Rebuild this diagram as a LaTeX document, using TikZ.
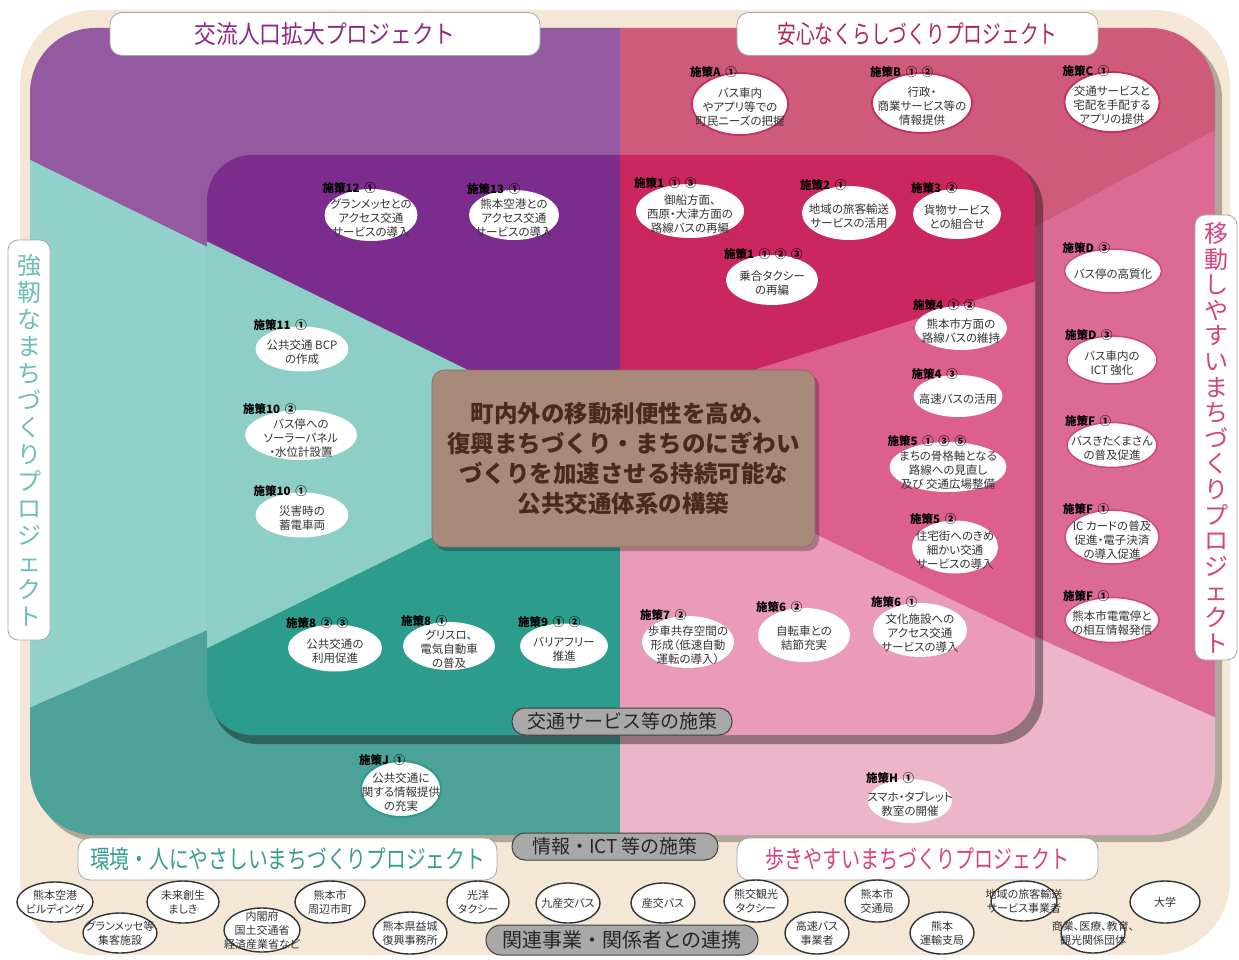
\documentclass[tikz,border=0pt]{standalone}
\usepackage{fontspec}
\setmainfont[RawFeature=+palt]{Noto Sans CJK JP}
\newfontfamily\plainjp{Noto Sans CJK JP}
\usepackage{graphicx}
\usetikzlibrary{shapes.geometric}

\definecolor{cream}{HTML}{F4E7D5}
\definecolor{oTL}{HTML}{935AA1}
\definecolor{oTR}{HTML}{CF5B7C}
\definecolor{oL}{HTML}{93D2CB}
\definecolor{oR}{HTML}{DB6B95}
\definecolor{oBL}{HTML}{4DA399}
\definecolor{oBR}{HTML}{EDB5C9}
\definecolor{iTL}{HTML}{7B2C8C}
\definecolor{iTR}{HTML}{CA2660}
\definecolor{iL}{HTML}{8DCFC7}
\definecolor{iR}{HTML}{DD5F8E}
\definecolor{iBL}{HTML}{2C9C8D}
\definecolor{iBR}{HTML}{E99BB9}
\definecolor{goalc}{HTML}{A88A7A}
\definecolor{goaltxt}{HTML}{4A2A20}
\definecolor{txtg}{HTML}{333333}
\definecolor{tPurple}{HTML}{8C2A86}
\definecolor{tCrimson}{HTML}{B0245A}
\definecolor{tTeal}{HTML}{6BBFB6}
\definecolor{tTealD}{HTML}{3A9D90}
\definecolor{tPink}{HTML}{D8427C}
\definecolor{pillc}{HTML}{A8A8A8}
\definecolor{ringA}{HTML}{C03060}
\definecolor{ringD}{HTML}{D2477F}
\definecolor{ringJ}{HTML}{2E9B8B}

\newcommand{\gp}{\hspace{0.4em}}
\newcommand{\Sak}[8][]{%
  \node[sakell,minimum width=#5pt,minimum height=#6pt,#1] (#2) at (#3,#4) {};
  \node[saktxt] (#2t) at (#3,{#4+3}) {#8};
  \node[saklab] (#2l) at ({#3-#5/2-2},{#4-#6/2-1}) {#7};
}
\newcommand{\Rel}[6]{%
  \node[relell,minimum width=#4pt,minimum height=#5pt] (#1) at (#2,#3) {};
  \node[reltxt] (#1t) at (#2,#3) {#6};
}

\begin{document}
\begin{tikzpicture}[x=1pt,y=-1pt,
  sakell/.style={ellipse,fill=white,inner sep=0pt},
  relell/.style={ellipse,fill=white,draw=txtg,line width=1.4pt,inner sep=0pt},
  saktxt/.style={align=center,inner sep=0pt,text=txtg,font=\fontsize{11.5}{14}\selectfont},
  reltxt/.style={align=center,inner sep=0pt,text=txtg,font=\fontsize{11}{14}\selectfont},
  saklab/.style={anchor=west,inner sep=0pt,text=black,font=\bfseries\fontsize{11.5}{12}\selectfont},
  titlebox/.style={fill=white,draw=black!35,line width=0.8pt,rounded corners=12pt,inner sep=0pt},
  vbox/.style={fill=white,draw=black!35,line width=0.8pt,rounded corners=10pt,inner sep=0pt,align=center},
  pill/.style={fill=pillc,draw=black!75,line width=1pt,rounded corners=13pt,inner sep=0pt,text=black!85}
]
\useasboundingbox (0,0) rectangle (1239,960);
\fill[white] (0,0) rectangle (1239,960);
% cream base
\fill[cream,rounded corners=75pt] (20,10) rectangle (1230,955);

% outer panel
\fill[black,opacity=0.28,rounded corners=65pt] (36,34) rectangle (1222,842);
\begin{scope}
\clip[rounded corners=65pt] (30,28) rectangle (1215,835);
\fill[oTL] (20,20) -- (620,20) -- (620,450) -- (20,155) -- cycle;
\fill[oL] (20,155) -- (620,450) -- (20,712) -- cycle;
\fill[oBL] (20,712) -- (620,450) -- (620,845) -- (20,845) -- cycle;
\fill[oTR] (620,20) -- (1225,20) -- (1225,125) -- (620,450) -- cycle;
\fill[oR] (1225,125) -- (620,450) -- (1225,722) -- cycle;
\fill[oBR] (1225,722) -- (620,450) -- (620,845) -- (1225,845) -- cycle;
\end{scope}

% inner panel
\fill[black,opacity=0.38,rounded corners=45pt] (212,162) rectangle (1043,744);
\begin{scope}
\clip[rounded corners=45pt] (207,155) rectangle (1035,735);
\fill[iTL] (200,150) -- (620,150) -- (620,445) -- (200,238) -- cycle;
\fill[iL] (200,238) -- (620,445) -- (200,652) -- cycle;
\fill[iBL] (200,652) -- (620,445) -- (620,740) -- (200,740) -- cycle;
\fill[iTR] (620,150) -- (1040,150) -- (1040,280) -- (620,412) -- cycle;
\fill[iR] (1040,280) -- (620,412) -- (620,440) -- (1040,642) -- cycle;
\fill[iBR] (1040,642) -- (620,440) -- (620,740) -- (1040,740) -- cycle;
\end{scope}

% goal box
\fill[black,opacity=0.25,rounded corners=12pt] (435,374) rectangle (819,551);
\node[fill=goalc,draw=goalc!80!black,line width=0.6pt,rounded corners=12pt,minimum width=383pt,minimum height=177pt,inner sep=0pt,align=center,text=goaltxt,font=\plainjp\bfseries\fontsize{23.5}{30}\selectfont] (goal) at (623.5,458.5)
{町内外の移動利便性を高め、\\復興まちづくり・まちのにぎわい\\づくりを加速させる持続可能な\\公共交通体系の構築};

% title boxes
\node[titlebox,minimum width=430pt,minimum height=43pt,text=tPurple,font=\plainjp\fontsize{25}{28}\selectfont] (t1) at (325,34) {\scalebox{0.87}[1]{交流人口拡大プロジェクト}};
\node[titlebox,minimum width=361pt,minimum height=43pt,text=tCrimson,font=\plainjp\fontsize{25}{28}\selectfont] (t2) at (917.5,34) {\scalebox{0.75}[1]{安心なくらしづくりプロジェクト}};
\node[vbox,minimum width=42pt,minimum height=400pt,text=tTeal,font=\plainjp\fontsize{24}{27}\selectfont] (t3) at (29,440) {強\\靭\\な\\ま\\ち\\づ\\く\\り\\プ\\ロ\\ジ\\ェ\\ク\\ト};
\node[vbox,minimum width=42pt,minimum height=445pt,text=tPink,font=\plainjp\fontsize{24}{25.6}\selectfont] (t4) at (1216,437.5) {移\\動\\し\\や\\す\\い\\ま\\ち\\づ\\く\\り\\プ\\ロ\\ジ\\ェ\\ク\\ト};
\node[titlebox,minimum width=419pt,minimum height=42pt,text=tTealD,font=\plainjp\fontsize{25}{28}\selectfont] (t5) at (287.5,859) {\scalebox{0.79}[1]{環境・人にやさしいまちづくりプロジェクト}};
\node[titlebox,minimum width=361pt,minimum height=42pt,text=tPink,font=\plainjp\fontsize{25}{28}\selectfont] (t6) at (917.5,859) {\scalebox{0.76}[1]{歩きやすいまちづくりプロジェクト}};

% pills
\node[pill,minimum width=220pt,minimum height=27pt,font=\plainjp\fontsize{19}{21}\selectfont] (p1) at (622,721.5) {交通サービス等の施策};
\node[pill,minimum width=206pt,minimum height=27pt,font=\plainjp\fontsize{19}{21}\selectfont] (p2) at (615,846.5) {情報・ICT 等の施策};
\node[pill,minimum width=272pt,minimum height=30pt,rounded corners=15pt,font=\plainjp\fontsize{20}{22}\selectfont] (p3) at (622,940) {関連事業・関係者との連携};

% outer top-right measures
\Sak[draw=ringA,line width=1.8pt]{sA}{740}{104}{96}{62}{施策A\gp①}{バス車内\\やアプリ等での\\町民ニーズの把握}
\Sak[draw=ringA,line width=1.8pt]{sB}{922}{103}{100}{60}{施策B\gp①\gp②}{行政・\\商業サービス等の\\情報提供}
\Sak[draw=ringA,line width=1.8pt]{sC}{1112}{102}{95}{60}{施策C\gp①}{交通サービスと\\宅配を手配する\\アプリの提供}

% inner top-left
\Sak{s12}{371}{215}{93}{52}{施策12\gp①}{グランメッセとの\\アクセス交通\\サービスの導入}
\Sak{s13}{514}{215}{90}{50}{施策13\gp①}{熊本空港との\\アクセス交通\\サービスの導入}

% inner top-right
\Sak{s1a}{690}{211}{108}{54}{施策1\gp①\gp③}{御船方面、\\西原・大津方面の\\路線バスの再編}
\Sak{s2}{849}{213}{94}{54}{施策2\gp①}{地域の旅客輸送\\サービスの活用}
\Sak{s3}{957}{214}{88}{50}{施策3\gp②}{貨物サービス\\との組合せ}
\Sak{s1b}{772}{280}{92}{50}{施策1\gp①\gp②\gp③}{乗合タクシー\\の再編}

% inner right
\Sak{s4a}{961}{328}{92}{44}{施策4\gp①\gp②}{熊本市方面の\\路線バスの維持}
\Sak{s4b}{958}{396}{89}{42}{施策4\gp③}{高速バスの活用}
\Sak{s5a}{948}{467}{117}{50}{施策5\gp①\gp③\gp⑤}{まちの骨格軸となる\\路線への見直し\\及び 交通広場整備}
\Sak{s5b}{955}{547}{86}{53}{施策5\gp②}{住宅街へのきめ\\細かい交通\\サービスの導入}

% inner left
\Sak{s11}{302}{349}{93}{45}{施策11\gp①}{公共交通 BCP\\の作成}
\Sak{s10b}{301}{435}{112}{50}{施策10\gp②}{バス停への\\ソーラーパネル\\・水位計設置}
\Sak{s10a}{302}{515}{93}{45}{施策10\gp①}{災害時の\\蓄電車両}

% inner bottom-left
\Sak{s8a}{335}{648}{94}{47}{施策8\gp②\gp③}{公共交通の\\利用促進}
\Sak{s8b}{449}{646}{92}{48}{施策8\gp①}{グリスロ、\\電気自動車\\の普及}
\Sak{s9}{564}{646}{88}{45}{施策9\gp①\gp②}{バリアフリー\\推進}

% inner bottom-right
\Sak{s7}{688}{642}{92}{52}{施策7\gp②}{歩車共存空間の\\形成（低速自動\\運転の導入）}
\Sak{s6b}{804}{635}{92}{54}{施策6\gp②}{自転車との\\結節充実}
\Sak{s6a}{920}{630}{94}{54}{施策6\gp①}{文化施設への\\アクセス交通\\サービスの導入}

% outer right
\Sak[draw=ringD,line width=1.5pt]{sD1}{1113}{271}{97}{44}{施策D\gp③}{バス停の高質化}
\Sak[draw=ringD,line width=1.5pt]{sD2}{1112}{360}{90}{48}{施策D\gp③}{バス車内の\\ICT 強化}
\Sak[draw=ringD,line width=1.5pt]{sF1}{1112}{445}{90}{45}{施策F\gp①}{バスきたくまさん\\の普及促進}
\Sak[draw=ringD,line width=1.5pt]{sF2}{1112}{537}{94}{54}{施策F\gp①}{IC カードの普及\\促進・電子決済\\の導入促進}
\Sak[draw=ringD,line width=1.5pt]{sF3}{1112}{620}{94}{45}{施策F\gp①}{熊本市電電停と\\の相互情報発信}

% outer bottom
\Sak[draw=ringJ,line width=2pt]{sJ}{401}{789}{80}{56}{施策J\gp①}{公共交通に\\関する情報提供\\の充実}
\Sak{sH}{910}{801}{84}{44}{施策H\gp①}{スマホ・タブレット\\教室の開催}

% stakeholders
\Rel{r1}{55}{902}{76}{40}{熊本空港\\ビルディング}
\Rel{r2}{120}{933}{74}{40}{グランメッセ等\\集客施設}
\Rel{r3}{183}{902}{72}{42}{未来創生\\ましき}
\Rel{r4}{262}{930}{76}{44}{内閣府\\国土交通省\\経済産業省など}
\Rel{r5}{330}{902}{70}{42}{熊本市\\周辺市町}
\Rel{r6}{410}{933}{74}{42}{熊本県益城\\復興事務所}
\Rel{r7}{478}{902}{62}{42}{光洋\\タクシー}
\Rel{r8}{568}{903}{64}{40}{九産交バス}
\Rel{r9}{663}{903}{64}{40}{産交バス}
\Rel{r10}{756}{901}{64}{42}{熊交観光\\タクシー}
\Rel{r11}{817}{933}{64}{42}{高速バス\\事業者}
\Rel{r12}{877}{901}{64}{42}{熊本市\\交通局}
\Rel{r13}{942}{933}{64}{42}{熊本\\運輸支局}
\Rel{r14}{1024}{901}{66}{40}{地域の旅客輸送\\サービス事業者}
\Rel{r15}{1093}{933}{64}{40}{商業、医療、教育、\\観光関係団体}
\Rel{r16}{1165}{902}{70}{42}{大学}
\end{tikzpicture}
\end{document}
